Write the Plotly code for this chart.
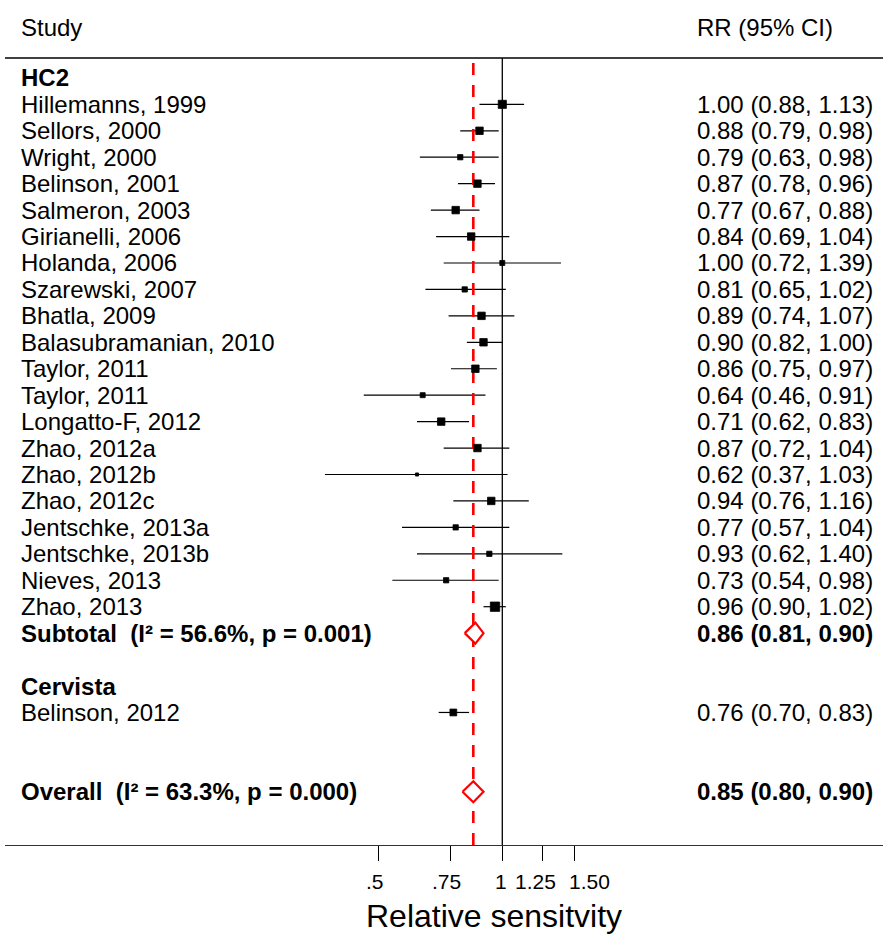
import math
import plotly.graph_objects as go

# ---- data -------------------------------------------------------------
hc2_studies = [
    "Hillemanns, 1999", "Sellors, 2000", "Wright, 2000", "Belinson, 2001",
    "Salmeron, 2003", "Girianelli, 2006", "Holanda, 2006", "Szarewski, 2007",
    "Bhatla, 2009", "Balasubramanian, 2010", "Taylor, 2011", "Taylor, 2011",
    "Longatto-F, 2012", "Zhao, 2012a", "Zhao, 2012b", "Zhao, 2012c",
    "Jentschke, 2013a", "Jentschke, 2013b", "Nieves, 2013", "Zhao, 2013",
]
hc2_rr = [1.00, 0.88, 0.79, 0.87, 0.77, 0.84, 1.00, 0.81, 0.89, 0.90,
          0.86, 0.64, 0.71, 0.87, 0.62, 0.94, 0.77, 0.93, 0.73, 0.96]
hc2_lo = [0.88, 0.79, 0.63, 0.78, 0.67, 0.69, 0.72, 0.65, 0.74, 0.82,
          0.75, 0.46, 0.62, 0.72, 0.37, 0.76, 0.57, 0.62, 0.54, 0.90]
hc2_hi = [1.13, 0.98, 0.98, 0.96, 0.88, 1.04, 1.39, 1.02, 1.07, 1.00,
          0.97, 0.91, 0.83, 1.04, 1.03, 1.16, 1.04, 1.40, 0.98, 1.02]
hc2_weight = [6.9, 5.8, 2.9, 5.8, 5.8, 5.8, 2.6, 2.9, 5.8, 5.8,
              5.8, 2.6, 5.8, 5.8, 1.0, 5.8, 2.9, 2.9, 2.9, 9.1]

cervista_studies = ["Belinson, 2012"]
cervista_rr = [0.76]
cervista_lo = [0.70]
cervista_hi = [0.83]
cervista_weight = [4.8]

subtotal_label = "Subtotal\u00a0 (I² = 56.6%, p = 0.001)"
subtotal = (0.86, 0.81, 0.90)
overall_label = "Overall\u00a0 (I² = 63.3%, p = 0.000)"
overall = (0.85, 0.80, 0.90)

tick_vals = [0.5, 0.75, 1.0, 1.25, 1.5]
tick_text = [".5", ".75", "1", "1.25", "1.50"]
x_title = "Relative sensitvity"

# ---- layout geometry (pixels) -----------------------------------------
W, H = 883, 936
PLOT_L, PLOT_B = 5, 845          # plot area: x 5..883, y 0..845
ROW0, ROW_STEP = 77.9, 26.44     # pixel centre of row 0 and row pitch
PX_PER_DECADE, PX_AT_ONE = 410.8, 502.3
FONT = "Liberation Sans, Arial, Helvetica, sans-serif"
FS = 24


def row_of(py):
    return (py - ROW0) / ROW_STEP


def xpaper(px):
    return (px - PLOT_L) / (W - PLOT_L)


def ypaper(py):
    return (PLOT_B - py) / PLOT_B


def fmt(est, lo, hi):
    return f"{est:.2f} ({lo:.2f}, {hi:.2f})"


# row layout
rows_hc2 = list(range(1, 1 + len(hc2_studies)))
row_sub = rows_hc2[-1] + 1
row_cerv_head = row_sub + 2
rows_cerv = [row_cerv_head + 1]
row_overall = rows_cerv[-1] + 3

all_rr = hc2_rr + cervista_rr
all_lo = hc2_lo + cervista_lo
all_hi = hc2_hi + cervista_hi
all_w = hc2_weight + cervista_weight
all_rows = rows_hc2 + rows_cerv

fig = go.Figure()

# confidence interval whiskers
ci_x, ci_y = [], []
for lo, hi, r in zip(all_lo, all_hi, all_rows):
    ci_x += [lo, hi, None]
    ci_y += [r, r, None]
fig.add_trace(go.Scatter(x=ci_x, y=ci_y, mode="lines",
                         line=dict(color="black", width=1.2),
                         hoverinfo="skip", showlegend=False))

# reference line at RR = 1
y_top, y_bot = row_of(58), row_of(PLOT_B)
fig.add_trace(go.Scatter(x=[1, 1], y=[y_top, y_bot], mode="lines",
                         line=dict(color="black", width=1.3),
                         hoverinfo="skip", showlegend=False))

# pooled overall estimate (dashed red), drawn upward from the axis
fig.add_trace(go.Scatter(x=[overall[0], overall[0]], y=[y_bot, y_top],
                         mode="lines",
                         line=dict(color="#ff0000", width=2.6, dash="12px,10px"),
                         hoverinfo="skip", showlegend=False))

# study boxes, area proportional to weight
fig.add_trace(go.Scatter(x=all_rr, y=all_rows, mode="markers",
                         marker=dict(symbol="square", color="black",
                                     size=[3.1 * math.sqrt(w) for w in all_w],
                                     opacity=1,
                                     line=dict(width=0.8, color="black")),
                         hoverinfo="skip", showlegend=False))

# pooled diamonds
half_h = 10.5 / ROW_STEP
for (est, lo, hi), r in ((subtotal, row_sub), (overall, row_overall)):
    fig.add_trace(go.Scatter(x=[lo, est, hi, est, lo],
                             y=[r, r - half_h, r, r + half_h, r],
                             mode="lines", fill="toself", fillcolor="white",
                             line=dict(color="#ff0000", width=2.2),
                             hoverinfo="skip", showlegend=False))

# ---- text columns ------------------------------------------------------
ann = []
LEFT_PX, RIGHT_PX = 19, 695


def add_text(px, row, text, bold=False):
    ann.append(dict(x=xpaper(px), xref="paper", y=row, yref="y",
                    xanchor="left", yanchor="middle", showarrow=False,
                    text=f"<b>{text}</b>" if bold else text,
                    font=dict(family=FONT, size=FS, color="black")))


add_text(LEFT_PX, row_of(27), "Study")
add_text(RIGHT_PX, row_of(27), "RR (95% CI)")

add_text(LEFT_PX, 0, "HC2", bold=True)
for name, r, est, lo, hi in zip(hc2_studies, rows_hc2, hc2_rr, hc2_lo, hc2_hi):
    add_text(LEFT_PX, r, name)
    add_text(RIGHT_PX, r, fmt(est, lo, hi))
add_text(LEFT_PX, row_sub, subtotal_label, bold=True)
add_text(RIGHT_PX, row_sub, fmt(*subtotal), bold=True)

add_text(LEFT_PX, row_cerv_head, "Cervista", bold=True)
for name, r, est, lo, hi in zip(cervista_studies, rows_cerv,
                                cervista_rr, cervista_lo, cervista_hi):
    add_text(LEFT_PX, r, name)
    add_text(RIGHT_PX, r, fmt(est, lo, hi))

add_text(LEFT_PX, row_overall, overall_label, bold=True)
add_text(RIGHT_PX, row_overall, fmt(*overall), bold=True)

# tick labels, nudged apart where they would crowd
tick_label_px = [375, 446.7, 500.5, 535, 589]
for px, t in zip(tick_label_px, tick_text):
    ann.append(dict(x=xpaper(px), xref="paper", y=ypaper(881.5), yref="paper",
                    xanchor="center", yanchor="middle", showarrow=False,
                    text=t, font=dict(family=FONT, size=21, color="black")))

ann.append(dict(x=xpaper(494), xref="paper", y=ypaper(916), yref="paper",
                xanchor="center", yanchor="middle", showarrow=False,
                text=x_title, font=dict(family=FONT, size=32, color="black")))

# header rule
shapes = [dict(type="line", xref="paper", yref="y", x0=0, x1=1,
               y0=row_of(58), y1=row_of(58),
               line=dict(color="black", width=1.3))]

x_lo = (PLOT_L - PX_AT_ONE) / PX_PER_DECADE
x_hi = (W - PX_AT_ONE) / PX_PER_DECADE

fig.update_layout(
    width=W, height=H,
    margin=dict(l=PLOT_L, r=0, t=0, b=H - PLOT_B, pad=0),
    paper_bgcolor="white", plot_bgcolor="white",
    showlegend=False,
    annotations=ann, shapes=shapes,
    xaxis=dict(type="log", range=[x_lo, x_hi], autorange=False,
               showgrid=False, zeroline=False,
               showline=True, linecolor="#333333", linewidth=1.3,
               ticks="outside", ticklen=15, tickwidth=1, tickcolor="black",
               tickvals=tick_vals, showticklabels=False, fixedrange=True),
    yaxis=dict(range=[row_of(PLOT_B), row_of(0)], autorange=False,
               visible=False, showgrid=False, zeroline=False, fixedrange=True),
)

fig.write_html("out.html", config={"displayModeBar": False})
